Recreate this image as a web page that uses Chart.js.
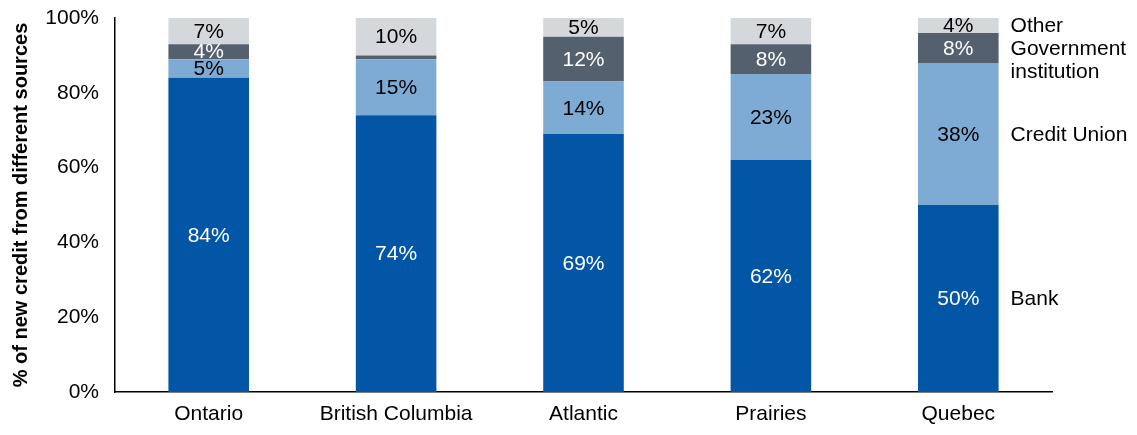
<!DOCTYPE html>
<html>
<head>
<meta charset="utf-8">
<script src="https://cdn.jsdelivr.net/npm/chart.js@4/dist/chart.umd.min.js"></script>
<style>
  html, body { margin: 0; padding: 0; background: #fff; }
  #wrap { width: 1137px; height: 435px; }
</style>
</head>
<body>
<div id="wrap"><canvas id="chart" width="1137" height="435"></canvas></div>
<script>
// ==================== DATA ====================
const regions = ['Ontario', 'British Columbia', 'Atlantic', 'Prairies', 'Quebec'];
const bankShare = [84, 74, 69, 62, 50];
const creditUnionShare = [5, 15, 14, 23, 38];
const governmentShare = [4, 1, 12, 8, 8];
const otherShare = [7, 10, 5, 7, 4];
const yTicks = [0, 20, 40, 60, 80, 100];

const FONT = '"Liberation Sans", Arial, sans-serif';

// segments shown in the bar, with their label colour
const series = [
    { label: 'Bank', lines: ['Bank'], data: bankShare, color: '#0256a5', text: '#ffffff' },
    { label: 'Credit Union', lines: ['Credit Union'], data: creditUnionShare, color: '#7eabd3', text: '#000000' },
    { label: 'Government institution', lines: ['Government', 'institution'], data: governmentShare, color: '#55606e', text: '#ffffff' },
    { label: 'Other', lines: ['Other'], data: otherShare, color: '#d4d7dc', text: '#000000' }
];

// Percent labels inside each segment (small slivers stay unlabeled)
const segmentLabels = {
    id: 'segmentLabels',
    afterDatasetsDraw(chart) {
        const ctx = chart.ctx;
        ctx.save();
        ctx.font = '21px ' + FONT;
        ctx.textAlign = 'center';
        ctx.textBaseline = 'middle';
        chart.data.datasets.forEach((ds, i) => {
            const meta = chart.getDatasetMeta(i);
            meta.data.forEach((bar, j) => {
                const v = ds.data[j];
                if (v < 3) return;
                ctx.fillStyle = series[i].text;
                ctx.fillText(v + '%', bar.x, (bar.y + bar.base) / 2 + 1);
            });
        });
        ctx.restore();
    }
};

// Series names to the right of the last bar, pushed apart when they overlap
const sideLegend = {
    id: 'sideLegend',
    afterDatasetsDraw(chart) {
        const ctx = chart.ctx;
        const lineH = 23;
        const last = regions.length - 1;
        const items = series.map((s, i) => {
            const bar = chart.getDatasetMeta(i).data[last];
            return { lines: s.lines, x: bar.x + bar.width / 2 + 12, mid: (bar.y + bar.base) / 2, h: s.lines.length * lineH };
        });
        // top-down: Other first
        items.reverse();
        let floor = -Infinity;
        items.forEach(it => {
            let top = it.mid - it.h / 2;
            if (top < floor) top = floor;
            it.top = top;
            floor = top + it.h;
        });
        ctx.save();
        ctx.font = '21px ' + FONT;
        ctx.fillStyle = '#000';
        ctx.textAlign = 'left';
        ctx.textBaseline = 'middle';
        items.forEach(it => {
            it.lines.forEach((ln, k) => ctx.fillText(ln, it.x, it.top + lineH * k + lineH / 2 + 1));
        });
        ctx.restore();
    }
};

const ctx = document.getElementById('chart').getContext('2d');
const chart = new Chart(ctx, {
    type: 'bar',
    data: {
        labels: regions,
        datasets: series.map(s => ({
            label: s.label,
            data: s.data,
            backgroundColor: s.color,
            borderWidth: 0,
            barPercentage: 0.43,
            categoryPercentage: 1
        }))
    },
    options: {
        responsive: false,
        animation: false,
        layout: { padding: { top: 18, right: 85, left: 0, bottom: 0 } },
        plugins: {
            legend: { display: false },
            tooltip: { enabled: false }
        },
        scales: {
            x: {
                stacked: true,
                grid: { display: false, drawTicks: false },
                border: { display: true, color: '#000', width: 1.5 },
                ticks: { color: '#000', font: { family: FONT, size: 21 }, padding: 10, maxRotation: 0 },
                afterFit(scale) {
                    scale.height = 43;
                    scale.paddingLeft = 0;
                    scale.paddingRight = 0;
                }
            },
            y: {
                stacked: true,
                min: 0,
                max: 100,
                afterBuildTicks(scale) { scale.ticks = yTicks.map(v => ({ value: v })); },
                grid: { display: false, drawTicks: false },
                border: { display: true, color: '#000', width: 1.5 },
                ticks: {
                    color: '#000',
                    font: { family: FONT, size: 21 },
                    padding: 16,
                    callback: v => v + '%'
                },
                title: {
                    display: true,
                    text: '% of new credit from different sources',
                    color: '#000',
                    font: { family: FONT, size: 20, weight: 'bold' },
                    padding: { top: 9, bottom: 6 }
                },
                afterFit(scale) {
                    scale.width = 115;
                    scale.paddingTop = 0;
                    scale.paddingBottom = 0;
                }
            }
        }
    },
    plugins: [segmentLabels, sideLegend]
});
</script>
</body>
</html>
